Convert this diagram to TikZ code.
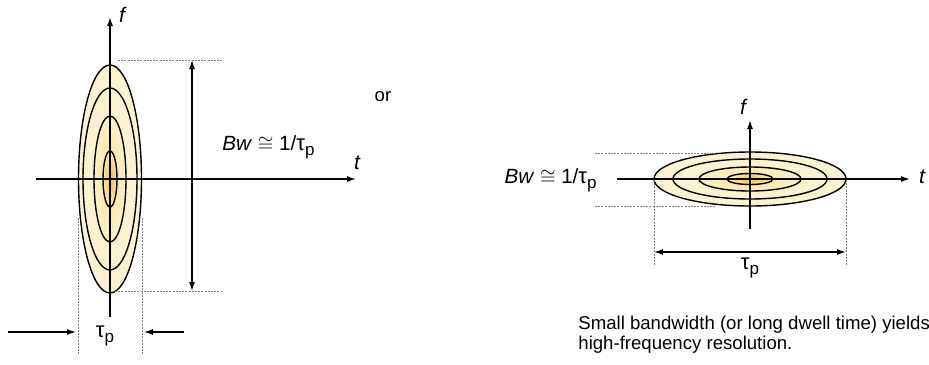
\documentclass[tikz,border=0pt]{standalone}
\usepackage{fontspec}
\setmainfont{Liberation Sans}
\usepackage{amsmath,amssymb}
\usepackage{xcolor}
\usepackage{tikz}
\usetikzlibrary{arrows.meta,positioning}
\definecolor{glowcore}{HTML}{F2B637}
\definecolor{glowmid}{HTML}{FBE4A6}
\definecolor{glowedge}{HTML}{FDF2CF}
\pgfdeclareradialshading{glow}{\pgfpoint{0bp}{0bp}}{%
  color(0bp)=(glowcore); color(5bp)=(glowmid); color(14bp)=(glowedge);
  color(25bp)=(glowedge); color(50bp)=(glowedge)}
\newcommand{\taup}{{\fontsize{11pt}{11pt}\selectfont τ}\raisebox{-0.45ex}{\fontsize{8.5pt}{9pt}\selectfont p}}

\begin{document}
\begin{tikzpicture}[
    x=0.5pt,y=-0.5pt,
    font=\fontsize{9.3pt}{10pt}\selectfont,
    axis/.style={line width=0.75pt,-{Latex[length=4.5pt,width=3pt]}},
    ring/.style={line width=0.7pt},
    guide/.style={gray,line width=0.3pt,dash pattern=on 1pt off 0.6pt},
    dimline/.style={line width=0.6pt,{Latex[length=4.5pt,width=3pt]}-{Latex[length=4.5pt,width=3pt]}},
    pointer/.style={line width=0.6pt,-{Latex[length=4.5pt,width=3pt]}},
    lbl/.style={inner sep=0pt},
    bwlbl/.style={lbl,font=\fontsize{10.3pt}{11pt}\selectfont},
    axlbl/.style={lbl,font=\fontsize{10.5pt}{11pt}\itshape}
  ]
    \useasboundingbox (0,0) rectangle (929,364);
    % left: short pulse
    \coordinate (lc) at (110,179);
    \fill[shading=glow] (lc) ellipse [x radius=31.5,y radius=114];
    \foreach \ra/\rb in {31.5/114,27/91,16/63,7/28}
      \draw[ring] (lc) ellipse [x radius=\ra,y radius=\rb];
    \coordinate (lt0) at (36,179);  \coordinate (lt1) at (356,179);
    \coordinate (lf0) at (110,317); \coordinate (lf1) at (110,17);
    \draw[axis] (lt0) -- (lt1);
    \draw[axis] (lf0) -- (lf1);
    \node[axlbl] (ltlab) at (357,163) {t};
    \node[axlbl] (lflab) at (122,15) {f};
    \coordinate (lgt0) at (118,60);  \coordinate (lgt1) at (222,60);
    \coordinate (lgb0) at (115,291); \coordinate (lgb1) at (222,291);
    \draw[guide] (lgt0) -- (lgt1);
    \draw[guide] (lgb0) -- (lgb1);
    \coordinate (lbwt) at (192,60); \coordinate (lbwb) at (192,291);
    \draw[dimline] (lbwt) -- (lbwb);
    \node[bwlbl,anchor=west] (lbw) at (222,147) {\textit{Bw} $\cong$ 1/\taup};
    \coordinate (lgl0) at (78,218);  \coordinate (lgl1) at (78,355);
    \coordinate (lgr0) at (142,218); \coordinate (lgr1) at (142,355);
    \draw[guide] (lgl0) -- (lgl1);
    \draw[guide] (lgr0) -- (lgr1);
    \coordinate (lpa0) at (8,332);   \coordinate (lpa1) at (76,332);
    \coordinate (lpb0) at (184,332); \coordinate (lpb1) at (144,332);
    \draw[pointer] (lpa0) -- (lpa1);
    \draw[pointer] (lpb0) -- (lpb1);
    \node[lbl] (ltau) at (105,336) {\taup};
    \node[lbl] (orlab) at (383,97) {or};
    % right: long dwell
    \coordinate (rc) at (750,179);
    \fill[shading=glow] (rc) ellipse [x radius=96,y radius=27];
    \foreach \ra/\rb in {96/27,77/20,51/12,23/5.5}
      \draw[ring] (rc) ellipse [x radius=\ra,y radius=\rb];
    \coordinate (rt0) at (617,179); \coordinate (rt1) at (910,179);
    \coordinate (rf0) at (750,229); \coordinate (rf1) at (750,120);
    \draw[axis] (rt0) -- (rt1);
    \draw[axis] (rf0) -- (rf1);
    \node[axlbl] (rtlab) at (922,177) {t};
    \node[axlbl] (rflab) at (743,107) {f};
    \coordinate (rgt0) at (595,153); \coordinate (rgt1) at (715,153);
    \coordinate (rgb0) at (595,206); \coordinate (rgb1) at (715,206);
    \draw[guide] (rgt0) -- (rgt1);
    \draw[guide] (rgb0) -- (rgb1);
    \node[bwlbl,anchor=east] (rbw) at (597,180) {\textit{Bw} $\cong$ 1/\taup};
    \coordinate (rgl0) at (654,180); \coordinate (rgl1) at (654,265);
    \coordinate (rgr0) at (846,180); \coordinate (rgr1) at (846,265);
    \draw[guide] (rgl0) -- (rgl1);
    \draw[guide] (rgr0) -- (rgr1);
    \coordinate (rdl) at (654,252); \coordinate (rdr) at (846,252);
    \draw[dimline] (rdl) -- (rdr);
    \node[lbl] (rtau) at (750,268) {\taup};
    \node[lbl,anchor=west,align=left] (note) at (578,335)
      {Small bandwidth (or long dwell time) yields\\high-frequency resolution.};
  \end{tikzpicture}
\end{document}
